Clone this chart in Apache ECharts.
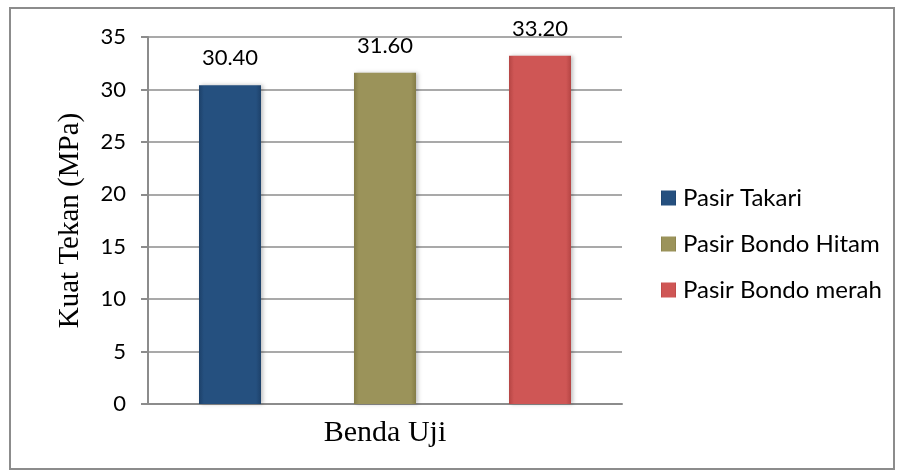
<!DOCTYPE html>
<html><head><meta charset="utf-8">
<script src="https://cdn.jsdelivr.net/npm/echarts@6/dist/echarts.min.js"></script>
<style>html,body{margin:0;padding:0;background:#fff}#frame{position:absolute;left:9px;top:7px;width:886px;height:463px;border:2px solid #8c8c8c;box-sizing:border-box}#c{position:absolute;left:0;top:0;width:902px;height:475px}</style>
</head><body><div id="frame"></div><div id="c"></div>
<script>
const categories = ['Benda Uji'];
const seriesNames = ['Pasir Takari', 'Pasir Bondo Hitam', 'Pasir Bondo merah'];
const seriesValues = [[30.40], [31.60], [33.20]];
const colors = [['#3a66a0','#25507f','#1d416a'], ['#aaa36a','#9b935a','#847c47'], ['#dc6866','#cf5655','#b54544']];
const chart = echarts.init(document.getElementById('c'), null, {renderer:'canvas'});
const series = seriesNames.map((n,i)=>({
  name:n, type:'bar', data:seriesValues[i], barWidth:62, barGap:'150%',
  itemStyle:{color:new echarts.graphic.LinearGradient(0,0,1,0,[{offset:0,color:colors[i][2]},{offset:0.08,color:colors[i][1]},{offset:0.92,color:colors[i][1]},{offset:1,color:colors[i][2]}]), shadowColor:'rgba(0,0,0,0.25)', shadowBlur:4, shadowOffsetX:2},
  label:{show:true, position:'top', distance:16, formatter:p=>p.value.toFixed(2), fontFamily:'Lato', fontSize:22, color:'#000'}
}));
chart.setOption({
  animation:false,
  color: colors.map(c=>c[1]),
  grid:{left:148, right:280, top:37, bottom:71},
  legend:{orient:'vertical', left:656, top:181, itemWidth:15, itemHeight:15, itemGap:22, icon:'rect',
    textStyle:{fontFamily:'Lato', fontSize:24, color:'#000', padding:[0,0,0,2]}},
  xAxis:{type:'category', data:categories, axisLine:{lineStyle:{color:'#8c8c8c', width:2}}, axisTick:{show:false},
    axisLabel:{fontFamily:'Liberation Serif', fontSize:30, color:'#000', margin:14}},
  yAxis:{type:'value', min:0, max:35, interval:5,
    axisLine:{show:true, lineStyle:{color:'#8c8c8c', width:2}},
    axisTick:{show:true, length:7, lineStyle:{color:'#8c8c8c', width:2}},
    splitLine:{lineStyle:{color:'#8c8c8c', width:1.5}},
    axisLabel:{fontFamily:'Lato', fontSize:22, color:'#000', margin:22},
    name:'Kuat Tekan (MPa)', nameLocation:'middle', nameGap:63, nameRotate:90,
    nameTextStyle:{fontFamily:'Liberation Serif', fontSize:29, color:'#000'}},
  series
});
</script></body></html>
